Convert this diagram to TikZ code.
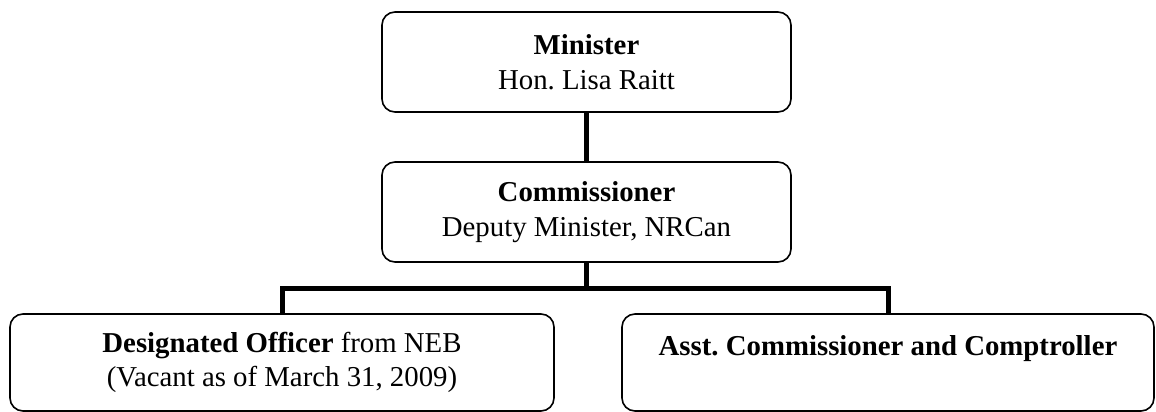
\documentclass[tikz,border=0pt]{standalone}
\usepackage{fontspec}
\setmainfont{Liberation Serif}
\usepackage{tikz}
\frenchspacing

\begin{document}
\begin{tikzpicture}[x=1pt, y=-1pt, every node/.style={draw, line width=1.6pt, rounded corners=13pt, align=center, font=\fontsize{28.8}{34.6}\selectfont}]
				\useasboundingbox (0,0) rectangle (1156,412);
				\node (minister) at (586.5,62) [minimum width=409pt, minimum height=100pt] {\textbf{Minister}\\Hon. Lisa Raitt};
				\node (commish) at (586.5,212) [minimum width=409pt, minimum height=100pt] {\textbf{Commissioner}\\Deputy Minister, NRCan};
				\node (desig) at (282,362.5) [minimum width=544pt, minimum height=97pt] {\textbf{Designated Officer} from NEB\\(Vacant as of March 31, 2009)};
				\node (asst) at (888,362.5) [minimum width=532pt, minimum height=97pt] {\textbf{Asst. Commissioner and Comptroller}\\\mbox{}};
				\coordinate (bar) at (586.5,288);
				
				\draw[line width=5pt] (minister) -- (commish);
				\draw[line width=5pt] (commish) -- (bar);
				\draw[line width=5pt] (bar) -| (desig);
				\draw[line width=5pt] (bar) -| (asst);
			\end{tikzpicture}
\end{document}
